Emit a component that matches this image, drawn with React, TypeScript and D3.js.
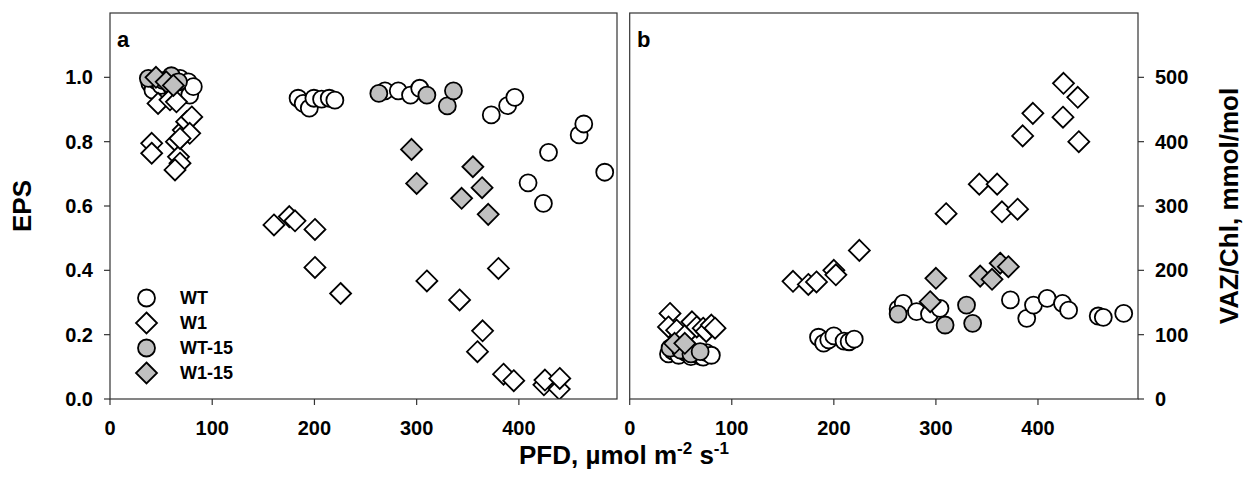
import React from "react";
import * as d3 from "d3";

// ---------- data (PFD, µmol m-2 s-1 ; EPS / VAZ per Chl) ----------
// Panel a: EPS
const wtA_x = [39, 42, 45, 50, 60, 68.5, 70, 76.6, 78, 81.5, 184, 189, 195, 199.5, 207, 214.5, 220, 269, 282, 294, 303, 373, 389, 396, 409, 424, 429, 459, 463.5, 484];
const wtA_y = [0.981, 0.96, 0.99, 0.975, 0.971, 0.997, 0.95, 0.986, 0.945, 0.971, 0.935, 0.919, 0.904, 0.935, 0.932, 0.935, 0.929, 0.958, 0.958, 0.945, 0.966, 0.883, 0.912, 0.938, 0.672, 0.608, 0.767, 0.821, 0.855, 0.705];
const w1A_x = [47, 58.7, 65, 40.8, 40.8, 65, 67, 68.5, 63.6, 71.7, 75, 80, 78, 68.5, 160.4, 175.4, 181, 200.5, 200.5, 225.6, 310, 342, 359.5, 364.5, 380, 385, 395, 424.5, 425.5, 439.5, 440];
const w1A_y = [0.919, 0.93, 0.924, 0.795, 0.764, 0.8, 0.753, 0.733, 0.712, 0.836, 0.862, 0.877, 0.826, 0.81, 0.541, 0.567, 0.554, 0.527, 0.409, 0.328, 0.367, 0.308, 0.147, 0.212, 0.406, 0.077, 0.057, 0.044, 0.059, 0.031, 0.064];
const wt15A_x = [37.5, 52, 60, 67, 263, 310, 330, 336];
const wt15A_y = [0.997, 0.99, 1.005, 0.986, 0.95, 0.945, 0.911, 0.958];
const w115A_x = [45, 55, 62, 295, 300, 344, 355, 364, 370];
const w115A_y = [1.0, 0.986, 0.975, 0.776, 0.67, 0.624, 0.722, 0.657, 0.574];

// Panel b: VAZ/Chl, mmol/mol
const wtB_x = [38, 42, 45, 48, 55, 60, 65, 70, 72, 75, 80, 185, 190, 195, 200, 210, 215, 220, 263, 268, 281, 293.7, 304, 373, 389, 395.6, 409, 424, 430, 459, 464, 484];
const wtB_y = [70, 75, 78, 68, 72, 66, 70, 66, 65, 72, 68, 96, 87, 92, 98, 90, 89, 93, 140, 148.7, 135.7, 132, 141, 154, 125.4, 146, 156.5, 148.7, 138, 129, 127, 133];
const w1B_x = [39.5, 38, 46, 55, 61, 65.7, 72, 75, 80, 83.6, 160, 175, 183, 200, 202, 225, 310, 342.5, 360, 364.7, 380, 385, 395, 424.5, 425, 439, 440];
const w1B_y = [133, 112, 107, 100, 120, 112, 110, 105, 115, 110, 183, 178, 182, 200, 193, 231, 288, 334, 334, 291, 295, 409, 444, 438, 490.7, 469, 400];
const wt15B_x = [39.5, 50, 60, 69, 263, 309, 330, 336];
const wt15B_y = [79, 76, 70, 73.5, 132, 115, 146, 117.6];
const w115B_x = [44, 54, 294.4, 300, 343.4, 355, 363, 371];
const w115B_y = [86.6, 86.6, 151.3, 187.6, 191, 186, 211, 205.7];

const xTicks = [0, 100, 200, 300, 400];
const epsTicks = [0, 0.2, 0.4, 0.6, 0.8, 1.0];
const vazTicks = [0, 100, 200, 300, 400, 500];
const legendLabels = ["WT", "W1", "WT-15", "W1-15"];

const FONT = "'Liberation Sans', Arial, sans-serif";
const GREY = "#c0c0c0";
const R = 8.5;
const D = 10.5;

type Pt = { x: number; y: number };
const zip = (xs: number[], ys: number[]): Pt[] => xs.map((x, i) => ({ x, y: ys[i] }));

function Circle({ cx, cy, fill }: { cx: number; cy: number; fill: string }) {
  return <circle cx={cx} cy={cy} r={R} fill={fill} stroke="#000" strokeWidth={1.8} />;
}
function Diamond({ cx, cy, fill }: { cx: number; cy: number; fill: string }) {
  const p = `M${cx},${cy - D}L${cx + D},${cy}L${cx},${cy + D}L${cx - D},${cy}Z`;
  return <path d={p} fill={fill} stroke="#000" strokeWidth={1.8} strokeLinejoin="miter" />;
}

export default function App() {
  const top = 13;
  const bottom = 399;
  const xa = d3.scaleLinear().domain([0, 496]).range([110, 617]);
  const xb = d3.scaleLinear().domain([0, 498]).range([629.7, 1138]);
  const ya = d3.scaleLinear().domain([0, 1.2]).range([bottom, top]);
  const yb = d3.scaleLinear().domain([0, 600]).range([bottom, top]);

  const series = (
    xs: d3.ScaleLinear<number, number>,
    ys: d3.ScaleLinear<number, number>,
    sets: { pts: Pt[]; shape: "c" | "d"; fill: string }[],
    key: string
  ) =>
    sets.map((s, si) =>
      s.pts.map((p, i) =>
        s.shape === "c" ? (
          <Circle key={`${key}${si}-${i}`} cx={xs(p.x)} cy={ys(p.y)} fill={s.fill} />
        ) : (
          <Diamond key={`${key}${si}-${i}`} cx={xs(p.x)} cy={ys(p.y)} fill={s.fill} />
        )
      )
    );

  const setsA = [
    { pts: zip(wtA_x, wtA_y), shape: "c" as const, fill: "#fff" },
    { pts: zip(w1A_x, w1A_y), shape: "d" as const, fill: "#fff" },
    { pts: zip(wt15A_x, wt15A_y), shape: "c" as const, fill: GREY },
    { pts: zip(w115A_x, w115A_y), shape: "d" as const, fill: GREY },
  ];
  const setsB = [
    { pts: zip(wtB_x, wtB_y), shape: "c" as const, fill: "#fff" },
    { pts: zip(w1B_x, w1B_y), shape: "d" as const, fill: "#fff" },
    { pts: zip(wt15B_x, wt15B_y), shape: "c" as const, fill: GREY },
    { pts: zip(w115B_x, w115B_y), shape: "d" as const, fill: GREY },
  ];

  const axisCol = "#333";
  const tickFs = 20;
  const titleFs = 26;

  const frame = (x0: number, x1: number) => (
    <rect x={x0} y={top} width={x1 - x0} height={bottom - top} fill="none" stroke={axisCol} strokeWidth={1.2} />
  );

  return (
    <svg width={1252} height={478} style={{ position: "absolute", left: 0, top: 0, background: "#fff" }} fontFamily={FONT}>
      <rect x={0} y={0} width={1252} height={478} fill="#fff" />
      <defs>
        <clipPath id="ca"><rect x={110} y={top} width={507} height={bottom - top} /></clipPath>
        <clipPath id="cb"><rect x={629.7} y={top} width={508.3} height={bottom - top} /></clipPath>
      </defs>

      <g clipPath="url(#ca)">{series(xa, ya, setsA, "a")}</g>
      <g clipPath="url(#cb)">{series(xb, yb, setsB, "b")}</g>

      {frame(110, 617)}
      {frame(629.7, 1138)}

      {xTicks.map((t) => (
        <g key={`xa${t}`}>
          <line x1={xa(t)} x2={xa(t)} y1={bottom} y2={bottom + 6} stroke={axisCol} strokeWidth={1.2} />
          <text x={xa(t)} y={435} textAnchor="middle" fontSize={tickFs} fontWeight="bold">{t}</text>
        </g>
      ))}
      {xTicks.map((t) => (
        <g key={`xb${t}`}>
          <line x1={xb(t)} x2={xb(t)} y1={bottom} y2={bottom + 6} stroke={axisCol} strokeWidth={1.2} />
          <text x={xb(t)} y={435} textAnchor="middle" fontSize={tickFs} fontWeight="bold">{t}</text>
        </g>
      ))}
      {epsTicks.map((t) => (
        <g key={`ya${t}`}>
          <line x1={104} x2={110} y1={ya(t)} y2={ya(t)} stroke={axisCol} strokeWidth={1.2} />
          <text x={93} y={ya(t) + 7} textAnchor="end" fontSize={tickFs} fontWeight="bold">{d3.format(".1f")(t)}</text>
        </g>
      ))}
      {vazTicks.map((t) => (
        <g key={`yb${t}`}>
          <line x1={1138} x2={1144} y1={yb(t)} y2={yb(t)} stroke={axisCol} strokeWidth={1.2} />
          <text x={1155} y={yb(t) + 7} textAnchor="start" fontSize={tickFs} fontWeight="bold">{t}</text>
        </g>
      ))}

      <text x={117} y={47} fontSize={22} fontWeight="bold">a</text>
      <text x={637} y={47} fontSize={22} fontWeight="bold">b</text>

      {legendLabels.map((lab, i) => {
        const cy = 298 + i * 25;
        const fill = i < 2 ? "#fff" : GREY;
        return (
          <g key={lab}>
            {i % 2 === 0 ? <Circle cx={146.5} cy={cy} fill={fill} /> : <Diamond cx={146.5} cy={cy} fill={fill} />}
            <text x={180} y={cy + 6} fontSize={18} fontWeight="bold">{lab}</text>
          </g>
        );
      })}

      <text transform={`translate(31,${(top + bottom) / 2}) rotate(-90)`} textAnchor="middle" fontSize={titleFs} fontWeight="bold">EPS</text>
      <text transform={`translate(1238,${(top + bottom) / 2}) rotate(-90)`} textAnchor="middle" fontSize={titleFs} fontWeight="bold">VAZ/Chl, mmol/mol</text>
      <text x={624} y={464} textAnchor="middle" fontSize={titleFs} fontWeight="bold">
        PFD, µmol m<tspan dy={-10} fontSize={17}>-2</tspan><tspan dy={10}> s</tspan><tspan dy={-10} fontSize={17}>-1</tspan>
      </text>
    </svg>
  );
}
